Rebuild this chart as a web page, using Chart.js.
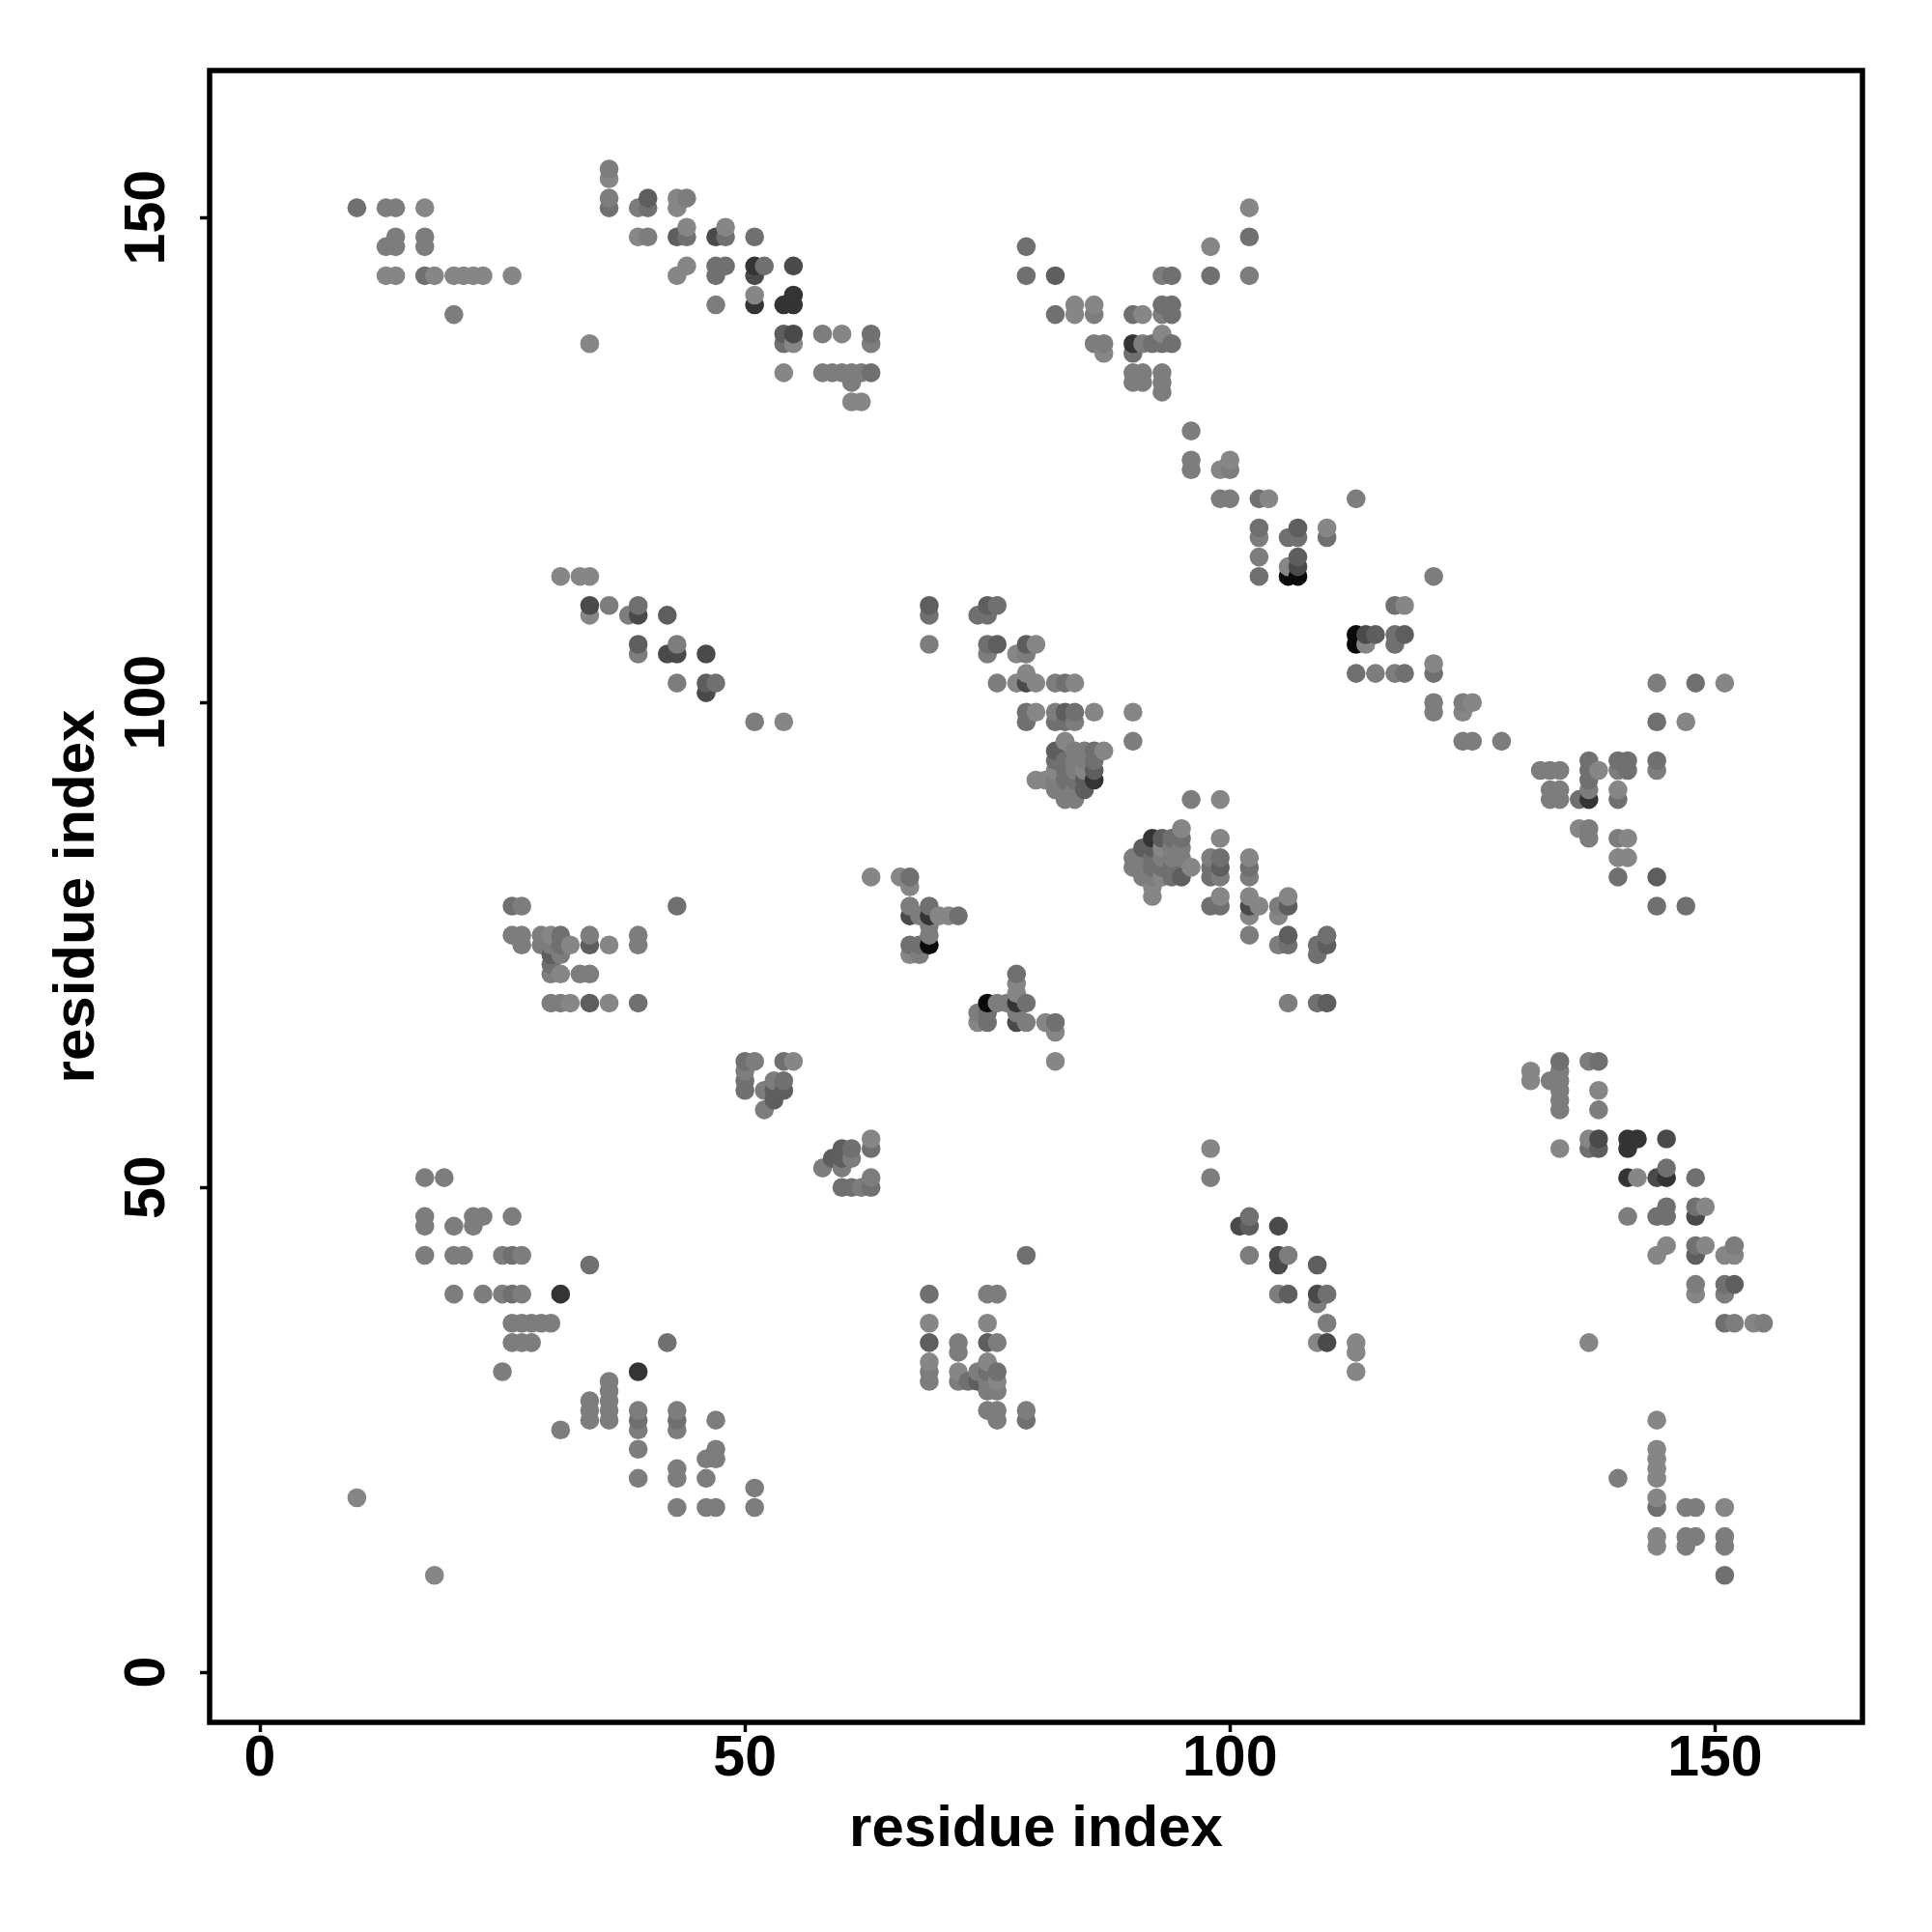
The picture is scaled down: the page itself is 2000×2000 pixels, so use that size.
<!DOCTYPE html>
<html><head><meta charset="utf-8">
<style>html,body{margin:0;padding:0;background:#fff}canvas{display:block}</style>
<script src="https://cdn.jsdelivr.net/npm/chart.js@4/dist/chart.umd.min.js"></script>
</head><body><canvas id="c" width="2000" height="2000"></canvas>
<script>
// Residue contacts as [i, j] with i < j; the map shows each also as [j, i].
// Grouped by how dark the dot is (weakest first).
const contactsLevel0 = [[17,151],[13,144],[14,144],[18,144],[20,144],[21,144],[22,144],[23,144],[26,144],[34,137],[36,154],[43,152],[43,151],[39,148],[44,149],[48,149],[44,145],[43,144],[51,142],[55,137],[60,138],[54,134],[61,131],[62,131],[98,147],[102,151],[84,141],[84,140],[86,141],[91,140],[87,136],[93,138],[100,125],[99,124],[104,121],[110,118],[106,114],[31,113],[33,113],[34,113],[34,109],[54,98],[80,106],[78,105],[78,102],[79,103],[80,102],[84,102],[80,99],[86,99],[90,99],[83,96],[87,95],[82,93],[85,93],[80,92],[81,92],[30,76],[32,75],[36,75],[31,72],[32,69],[36,69],[63,82],[66,82],[67,81],[70,78],[71,78],[67,74],[55,63],[10,18]];
const contactsLevel1 = [[13,151],[14,151],[14,148],[13,147],[14,147],[17,148],[17,147],[20,140],[36,155],[36,152],[39,151],[44,152],[40,148],[47,141],[58,138],[63,137],[58,134],[59,134],[60,134],[61,134],[62,134],[61,133],[93,144],[102,144],[86,140],[93,140],[86,137],[87,137],[91,137],[90,134],[91,134],[90,133],[91,133],[93,134],[93,133],[93,132],[96,128],[96,125],[96,124],[100,124],[99,121],[100,121],[113,121],[103,117],[103,115],[36,110],[38,109],[39,105],[43,106],[43,102],[51,98],[69,106],[75,105],[79,105],[76,102],[82,102],[82,99],[84,98],[90,96],[84,95],[85,95],[84,94],[85,94],[84,93],[82,92],[82,91],[83,91],[84,91],[83,90],[84,90],[27,79],[26,76],[27,76],[27,75],[29,76],[29,75],[30,75],[31,74],[34,76],[39,76],[39,75],[30,72],[33,72],[34,72],[30,69],[31,69],[67,79],[68,78],[69,77],[69,76],[68,74],[51,63],[50,62],[53,61],[52,60],[52,58],[17,51],[19,51],[17,47],[17,46],[20,46],[22,46],[22,47],[23,47],[26,47],[17,43],[20,43],[21,43],[25,43],[27,43],[20,39],[23,39],[25,39],[27,39],[26,36],[27,36],[28,36],[29,36],[30,36],[26,34],[27,34],[28,34],[25,31]];
const contactsLevel2 = [[10,151],[17,144],[36,151],[40,151],[44,148],[48,148],[51,148],[47,145],[48,145],[47,144],[52,145],[54,137],[63,138],[63,134],[79,147],[79,144],[94,144],[98,144],[102,148],[82,140],[93,141],[94,141],[94,140],[90,140],[92,137],[93,137],[94,137],[90,136],[103,121],[103,118],[106,117],[107,117],[110,117],[103,113],[39,110],[47,102],[69,109],[76,110],[74,109],[75,109],[75,106],[83,102],[79,99],[79,98],[84,99],[82,98],[83,98],[86,95],[82,94],[83,94],[86,94],[83,93],[83,92],[84,92],[26,79],[43,79],[31,76],[31,75],[30,73],[39,69],[67,82],[69,79],[72,78],[67,75],[68,75],[50,63],[54,63],[50,61],[50,60],[54,61],[26,43],[34,42],[26,39]];
const contactsLevel3 = [[40,152],[43,148],[54,138],[82,144],[107,118],[107,115],[42,109],[39,106],[46,102],[69,110],[75,110],[76,106],[79,106],[83,99],[82,95],[86,93],[85,92],[85,91],[30,74],[34,75],[34,69],[53,60],[54,60],[53,59]];
const contactsLevel4 = [[47,148],[51,144],[55,145],[55,138],[107,114],[34,110],[39,109],[42,105],[43,105],[46,105],[46,101],[79,102],[67,78]];
const contactsLevel5 = [[51,145],[51,141],[55,142],[54,141],[55,141],[90,137],[86,92],[69,78],[31,39]];
const contactsLevel6 = [[106,113],[107,113],[69,75]];
const levelGroups = [contactsLevel0,contactsLevel1,contactsLevel2,contactsLevel3,contactsLevel4,contactsLevel5,contactsLevel6];
const levelGrays = [134,125,112,94,74,52,10];
const xTickValues = [0,50,100,150];
const yTickValues = [0,50,100,150];
const xAxisTitle = 'residue index';
const yAxisTitle = 'residue index';

const pts = [];
levelGroups.forEach((group,k)=>group.forEach(([i,j])=>{
  pts.push({x:i,y:j,g:levelGrays[k]});
  pts.push({x:j,y:i,g:levelGrays[k]});
}));
pts.sort((a,b)=>a.x-b.x||a.y-b.y);

const FONT = '"Liberation Sans", Arial, sans-serif';
const box = {id:'box',afterDraw(ch){const {ctx,chartArea:a}=ch;ctx.save();ctx.strokeStyle='#000';ctx.lineWidth=5.5;ctx.strokeRect(a.left,a.top,a.right-a.left,a.bottom-a.top);ctx.restore();}};
new Chart(document.getElementById('c'),{
  type:'scatter',
  data:{datasets:[{data:pts.map(p=>({x:p.x,y:p.y})),
    pointBackgroundColor:pts.map(p=>`rgb(${p.g},${p.g},${p.g})`),
    pointBorderWidth:0,pointRadius:9.8,pointHoverRadius:9.8}]},
  plugins:[box],
  options:{responsive:false,animation:false,
    layout:{padding:{top:73,right:72,left:0,bottom:0}},
    plugins:{legend:{display:false},tooltip:{enabled:false}},
    events:[],
    scales:{
      x:{type:'linear',min:-5.18,max:165.2,
        afterBuildTicks(s){s.ticks=xTickValues.map(v=>({value:v}));},
        afterFit(s){s.height=217;},
        grid:{display:true,drawOnChartArea:false,drawTicks:true,tickLength:10,tickWidth:3.5,tickColor:'#000'},
        border:{display:false},
        ticks:{color:'#000',font:{family:FONT,size:59,weight:'bold'},padding:-6.5,autoSkip:false,maxRotation:0,minRotation:0},
        title:{display:true,text:xAxisTitle,color:'#000',font:{family:FONT,size:60,weight:'bold'},padding:{top:0,bottom:70}}},
      y:{type:'linear',min:-5.16,max:165.16,
        afterBuildTicks(s){s.ticks=yTickValues.map(v=>({value:v}));},
        afterFit(s){s.width=217;},
        grid:{display:true,drawOnChartArea:false,drawTicks:true,tickLength:10,tickWidth:3.5,tickColor:'#000'},
        border:{display:false},
        ticks:{color:'#000',font:{family:FONT,size:59,weight:'bold'},padding:4,autoSkip:false,minRotation:90,maxRotation:90,crossAlign:'center'},
        title:{display:true,text:yAxisTitle,color:'#000',font:{family:FONT,size:60,weight:'bold'},padding:{top:44,bottom:0}}}
    }
  }
});
</script></body></html>
